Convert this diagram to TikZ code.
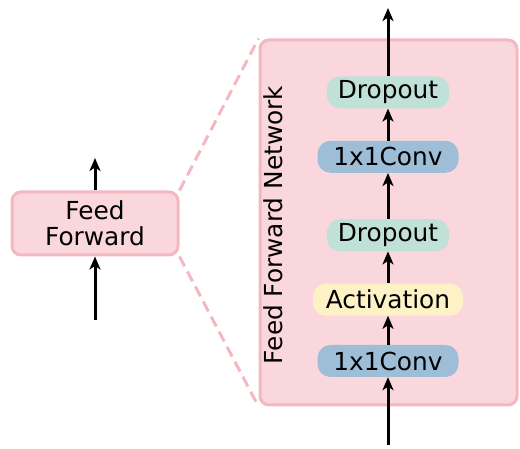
\documentclass[tikz,border=0pt]{standalone}
\usepackage{fontspec}
\setmainfont{DejaVu Sans}
\usepackage{tikz}
\usetikzlibrary{arrows.meta,positioning}
\definecolor{boxpink}{RGB}{250,215,220}
\definecolor{edgepink}{RGB}{243,184,192}
\definecolor{dropteal}{RGB}{192,225,216}
\definecolor{convblue}{RGB}{158,190,216}
\definecolor{actyellow}{RGB}{252,242,198}

\begin{document}
\begin{tikzpicture}[
    x=1pt, y=1pt,
    font=\fontsize{24.8}{25.5}\selectfont,
    outer/.style={rectangle, draw=edgepink, line width=3pt, fill=boxpink, rounded corners=9pt},
    layer/.style={rectangle, rounded corners=13pt, inner xsep=11pt, inner ysep=0pt, minimum height=32pt},
    dropbox/.style={layer, fill=dropteal, minimum width=122pt},
    convbox/.style={layer, fill=convblue, minimum width=141pt},
    actbox/.style={layer, fill=actyellow, minimum width=150pt},
    arrow/.style={-{Stealth[length=13pt,width=11pt,inset=3.5pt]}, line width=3pt, black},
    zoomline/.style={edgepink, line width=3pt, dash pattern=on 11pt off 6pt}
]
\useasboundingbox (0,0) rectangle (520,449);

% Block on the left
\node[outer, minimum width=166pt, minimum height=63pt, align=center] (ff) at (95,225.5) {Feed\\Forward};
\coordinate (ffin) at (95,129);
\coordinate (ffout) at (95,291);

% Expanded network
\node[outer, minimum width=257pt, minimum height=365pt] (ffn) at (388.5,226.5) {};
\node[rotate=90] (ffnlabel) at (273,224) {Feed Forward Network};

% Zoom lines
\draw[zoomline] (ff.north east) -- (ffn.north west);
\draw[zoomline] (ff.south east) -- (ffn.south west);

% Layers
\node[convbox] (conv1) at (388,88) {1x1Conv};
\node[actbox, above=29pt of conv1] (act) {Activation};
\node[dropbox, above=32pt of act] (drop1) {Dropout};
\node[convbox, above=46pt of drop1] (conv2) {1x1Conv};
\node[dropbox, above=32pt of conv2] (drop2) {Dropout};
\coordinate (netin) at (388,4);
\coordinate (netout) at (388,441);

% Arrows
\draw[arrow] (ffin) -- (ff);
\draw[arrow] (ff) -- (ffout);
\draw[arrow] (netin) -- (conv1);
\draw[arrow] (conv1) -- (act);
\draw[arrow] (act) -- (drop1);
\draw[arrow] (drop1) -- (conv2);
\draw[arrow] (conv2) -- (drop2);
\draw[arrow] (drop2) -- (netout);

\end{tikzpicture}
\end{document}
